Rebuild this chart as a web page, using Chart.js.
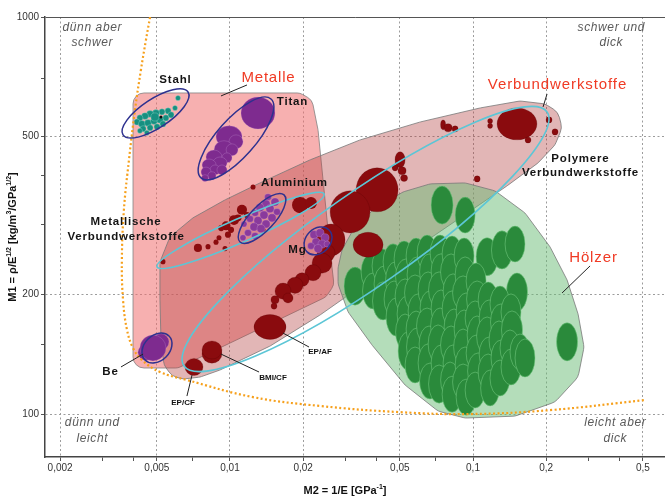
<!DOCTYPE html>
<html>
<head>
<meta charset="utf-8">
<script src="https://cdn.jsdelivr.net/npm/chart.js@4.4.0/dist/chart.umd.min.js"></script>
<style>
  html, body { margin: 0; padding: 0; background: #fff; }
  #wrap { width: 665px; height: 501px; }
</style>
</head>
<body>
<div id="wrap"><canvas id="c" width="665" height="501"></canvas></div>
<script>
// ---- axes -------------------------------------------------------------
const xMajorTicks = [0.002, 0.005, 0.01, 0.02, 0.05, 0.1, 0.2, 0.5];
const xTickLabels = ['0,002', '0,005', '0,01', '0,02', '0,05', '0,1', '0,2', '0,5'];
const xMinorTicks = [0.003, 0.004, 0.007, 0.03, 0.04, 0.07, 0.3, 0.4];
const yMajorTicks = [100, 200, 500, 1000];
const yTickLabels = ['100', '200', '500', '1000'];
const yMinorTicks = [150, 300, 400, 700];
const xRange = [0.001733, 0.6166];
const yRange = [77.95, 1000];

// ---- materials: [M2, M1, M2 spread factor, M1 spread factor] ----------
const stahl = [
  [0.00611, 625, 1.024, 1.015], [0.00594, 590, 1.024, 1.015], [0.00556, 580, 1.029, 1.018],
  [0.00525, 577, 1.029, 1.018], [0.00496, 573, 1.034, 1.020], [0.00469, 570, 1.034, 1.020],
  [0.00447, 563, 1.034, 1.020], [0.00426, 557, 1.029, 1.018], [0.00414, 544, 1.029, 1.018],
  [0.00434, 538, 1.034, 1.020], [0.00460, 541, 1.034, 1.020], [0.00487, 547, 1.034, 1.020],
  [0.00515, 551, 1.034, 1.020], [0.00545, 557, 1.029, 1.018], [0.00439, 523, 1.029, 1.018],
  [0.00469, 526, 1.029, 1.018], [0.00501, 529, 1.029, 1.018], [0.00530, 538, 1.029, 1.018],
  [0.00455, 511, 1.024, 1.015], [0.00426, 517, 1.024, 1.015], [0.00572, 567, 1.029, 1.018],
  [0.00491, 560, 1.039, 1.024]
];
const stahlMarker = [[0.00520, 560, 1.014, 1.009]];
const titan = [
  [0.01304, 573, 1.175, 1.097], [0.00991, 499, 1.131, 1.066], [0.01059, 485, 1.069, 1.041],
  [0.00945, 463, 1.099, 1.054], [0.01020, 463, 1.058, 1.035], [0.00859, 444, 1.079, 1.041],
  [0.00972, 442, 1.049, 1.029], [0.00910, 429, 1.069, 1.035], [0.00820, 424, 1.069, 1.035],
  [0.00868, 412, 1.049, 1.029], [0.00927, 412, 1.049, 1.029], [0.00797, 407, 1.049, 1.029],
  [0.00843, 398, 1.039, 1.024], [0.00789, 393, 1.034, 1.020]
];
const aluminium = [
  [0.01434, 352, 1.034, 1.020], [0.01532, 342, 1.039, 1.024], [0.01407, 338, 1.039, 1.024],
  [0.01329, 331, 1.039, 1.024], [0.01461, 329, 1.039, 1.024], [0.01561, 323, 1.034, 1.020],
  [0.01268, 321, 1.034, 1.020], [0.01380, 317, 1.039, 1.024], [0.01489, 312, 1.039, 1.024],
  [0.01209, 310, 1.034, 1.020], [0.01304, 307, 1.039, 1.024], [0.01407, 301, 1.039, 1.024],
  [0.01256, 296, 1.039, 1.024], [0.01342, 293, 1.039, 1.024], [0.01186, 286, 1.034, 1.020],
  [0.01268, 281, 1.034, 1.020], [0.01142, 301, 1.029, 1.018], [0.01131, 278, 1.029, 1.018]
];
const magnesium = [
  [0.02217, 283, 1.039, 1.024], [0.02347, 286, 1.039, 1.024], [0.02461, 278, 1.039, 1.024],
  [0.02260, 271, 1.039, 1.024], [0.02392, 268, 1.039, 1.024], [0.02155, 265, 1.034, 1.020],
  [0.02303, 261, 1.039, 1.024], [0.02508, 268, 1.029, 1.018]
];
const beryllium = [
  [0.00451, 143, 1.079, 1.048], [0.00520, 152, 1.079, 1.048], [0.00482, 146.7, 1.131, 1.078]
];
const metalComposites = [
  [0.01244, 373, 1.024, 1.015], [0.01120, 327, 1.049, 1.029], [0.01175, 317, 1.029, 1.018],
  [0.01079, 312, 1.034, 1.020], [0.01039, 308, 1.049, 1.029], [0.00963, 298, 1.044, 1.026],
  [0.01010, 291, 1.029, 1.018], [0.00920, 294, 1.029, 1.018], [0.00981, 283, 1.029, 1.018],
  [0.00901, 278, 1.024, 1.015], [0.00876, 271, 1.024, 1.015], [0.00812, 264, 1.024, 1.015],
  [0.00738, 262, 1.039, 1.024], [0.00954, 261, 1.024, 1.015], [0.00530, 242, 1.024, 1.015],
  [0.01368, 291, 1.024, 1.015], [0.01942, 336, 1.079, 1.048], [0.02155, 340, 1.058, 1.035]
];
const polymerComposites = [
  [0.0403, 367, 1.220, 1.136], [0.0312, 323, 1.208, 1.130], [0.0370, 267, 1.153, 1.075],
  [0.02605, 274.5, 1.142, 1.097], [0.02484, 254.5, 1.089, 1.054], [0.02392, 240, 1.099, 1.060],
  [0.02197, 227, 1.079, 1.048], [0.01979, 218, 1.069, 1.041], [0.01852, 211, 1.079, 1.048],
  [0.01653, 204, 1.079, 1.048], [0.01733, 196, 1.049, 1.029], [0.01532, 194, 1.039, 1.024],
  [0.01518, 187, 1.029, 1.018],
  [0.01461, 165.7, 1.164, 1.075],
  [0.00843, 141.6, 1.099, 1.054], [0.00843, 145.0, 1.099, 1.054],
  [0.00711, 131.4, 1.089, 1.051],
  [0.0501, 437, 1.049, 1.048], [0.05106, 410, 1.039, 1.024], [0.04779, 417, 1.029, 1.018],
  [0.05204, 393, 1.034, 1.020], [0.07533, 535, 1.024, 1.029], [0.07898, 526, 1.039, 1.024],
  [0.08439, 522.5, 1.029, 1.018], [0.1517, 538, 1.208, 1.097], [0.1176, 547, 1.024, 1.015],
  [0.1176, 532, 1.024, 1.015], [0.2055, 550.5, 1.029, 1.018], [0.2175, 513.5, 1.029, 1.018],
  [0.1684, 490, 1.029, 1.018], [0.1040, 391, 1.029, 1.018]
];
const woods = [
  [0.0327, 210, 1.110, 1.117], [0.0746, 336, 1.110, 1.117], [0.0928, 317, 1.099, 1.110],
  [0.1143, 249, 1.110, 1.117], [0.1316, 259, 1.105, 1.117], [0.1489, 268, 1.099, 1.110],
  [0.1517, 203, 1.105, 1.117], [0.2438, 152, 1.105, 1.117],
  [0.03806, 228.0, 1.099, 1.110], [0.03879, 204.2, 1.105, 1.110],
  [0.04224, 236.1, 1.099, 1.104], [0.04305, 212.6, 1.099, 1.110], [0.04264, 192.7, 1.105, 1.117],
  [0.04689, 241.7, 1.099, 1.110], [0.04779, 217.7, 1.094, 1.110], [0.04733, 194.9, 1.099, 1.110],
  [0.04824, 175.5, 1.099, 1.117],
  [0.05204, 245.9, 1.099, 1.110], [0.05304, 221.5, 1.105, 1.110], [0.05254, 198.3, 1.099, 1.104],
  [0.05354, 178.6, 1.099, 1.110], [0.05254, 160.9, 1.094, 1.110], [0.05405, 144.2, 1.099, 1.117],
  [0.05831, 250.1, 1.099, 1.110], [0.05886, 224.1, 1.099, 1.110], [0.05776, 201.8, 1.105, 1.110],
  [0.05942, 181.8, 1.099, 1.104], [0.05831, 163.7, 1.099, 1.110], [0.05886, 147.5, 1.105, 1.117],
  [0.05776, 132.9, 1.099, 1.110],
  [0.06472, 254.5, 1.099, 1.110], [0.06595, 228.0, 1.094, 1.110], [0.06533, 205.4, 1.099, 1.110],
  [0.06659, 185.0, 1.099, 1.104], [0.06472, 166.6, 1.105, 1.110], [0.06595, 150.1, 1.099, 1.110],
  [0.06533, 134.5, 1.099, 1.117], [0.06659, 121.1, 1.105, 1.110],
  [0.07321, 254.5, 1.099, 1.110], [0.0739, 229.4, 1.099, 1.104], [0.07252, 205.4, 1.105, 1.110],
  [0.0739, 185.0, 1.099, 1.110], [0.07321, 166.6, 1.094, 1.110], [0.07184, 150.1, 1.099, 1.117],
  [0.0739, 134.5, 1.099, 1.110], [0.07252, 119.0, 1.105, 1.117],
  [0.08202, 253.1, 1.099, 1.110], [0.08125, 228.0, 1.105, 1.110], [0.0828, 204.2, 1.099, 1.104],
  [0.08202, 184.0, 1.099, 1.110], [0.08359, 165.7, 1.099, 1.110], [0.08125, 149.2, 1.105, 1.117],
  [0.0828, 134.5, 1.099, 1.110], [0.08049, 121.8, 1.094, 1.110], [0.08202, 112.2, 1.099, 1.110],
  [0.09191, 250.1, 1.099, 1.110], [0.09279, 224.1, 1.099, 1.110], [0.09105, 201.8, 1.105, 1.104],
  [0.09367, 181.8, 1.099, 1.110], [0.09191, 163.7, 1.099, 1.117], [0.09105, 147.5, 1.094, 1.110],
  [0.09279, 132.9, 1.099, 1.110], [0.09105, 120.4, 1.105, 1.110], [0.09367, 110.3, 1.099, 1.110],
  [0.10298, 216.4, 1.099, 1.110], [0.10396, 194.9, 1.105, 1.110], [0.10201, 174.5, 1.099, 1.104],
  [0.10396, 158.1, 1.099, 1.117], [0.10298, 142.4, 1.099, 1.110], [0.10495, 128.4, 1.105, 1.110],
  [0.10201, 114.9, 1.099, 1.110],
  [0.1154, 193.8, 1.099, 1.110], [0.1165, 174.6, 1.099, 1.110], [0.11431, 157.2, 1.105, 1.117],
  [0.1165, 141.6, 1.099, 1.104], [0.1154, 127.6, 1.099, 1.110], [0.1176, 116.3, 1.094, 1.110],
  [0.12915, 189.4, 1.099, 1.110], [0.13038, 170.6, 1.105, 1.110], [0.12794, 153.6, 1.099, 1.117],
  [0.13038, 138.4, 1.099, 1.110], [0.12915, 123.2, 1.099, 1.110],
  [0.14334, 180.8, 1.099, 1.110], [0.1447, 162.8, 1.105, 1.117], [0.14199, 146.7, 1.099, 1.110],
  [0.14334, 131.4, 1.099, 1.110], [0.15611, 143.3, 1.099, 1.110], [0.16369, 138.4, 1.099, 1.117]
];

// ---- class envelopes (M2, M1 outline vertices) ------------------------
const metalleEnvelope = [
  [0.00399, 643.7], [0.01942, 643.7], [0.02176, 618.1], [0.02303, 519.5], [0.02415, 388.8],
  [0.0258, 259.1], [0.0268, 211.4], [0.02484, 197.2], [0.00611, 130.6], [0.00399, 130.6]
];
const compositeEnvelope = [
  [0.00515, 241.7], [0.00515, 193.8], [0.0052, 153.6], [0.00535, 132.9], [0.00577, 124.7],
  [0.00641, 122.5], [0.00753, 123.9], [0.0091, 129.1], [0.01461, 148.3], [0.02347, 177.6],
  [0.0501, 245.9], [0.08849, 311.9], [0.138, 375.5], [0.1852, 429], [0.2175, 476.2],
  [0.2325, 525.6], [0.2238, 576.5], [0.1979, 604], [0.1561, 614.5], [0.107, 590.1],
  [0.06056, 543.9], [0.03429, 490.2], [0.02135, 436.6], [0.01329, 382], [0.00954, 346.2],
  [0.00704, 312], [0.00566, 279.3]
];
const woodEnvelope = [
  [0.02784, 233.4], [0.02891, 259.1], [0.03209, 290.9], [0.03879, 326.7], [0.05155, 362.6],
  [0.06659, 379.9], [0.09279, 382.1], [0.1233, 364.8], [0.1637, 321], [0.2075, 263.6],
  [0.2438, 217.7], [0.2706, 178.6], [0.2864, 147.5], [0.2706, 123.9], [0.2175, 107.2],
  [0.1489, 98.8], [0.09279, 97.7], [0.07184, 101.7], [0.05254, 118.3], [0.03842, 149.2],
  [0.03061, 180.8], [0.02784, 212.6]
];
// boundary curve
const boundaryCurve = [
  [0.00469, 1000], [0.00451, 875], [0.0043, 735.5], [0.004065, 583.3], [0.00384, 436.6],
  [0.00366, 326.7], [0.00359, 244.5], [0.00363, 193.8], [0.00377, 162.8], [0.00399, 146.7],
  [0.00434, 136.8], [0.00515, 127.6], [0.00665, 121.8], [0.01244, 110.3], [0.02347, 104.8],
  [0.0501, 101.1], [0.09729, 100], [0.2075, 102.3], [0.5104, 108.5]
];
// family rings: major-axis end points [M2, M1]
const ringStahl = [[0.00363, 504.7], [0.00672, 647.4]];
const ringTitan = [[0.0076, 393.3], [0.01475, 621.7]];
const ringAluminium = [[0.011, 271.3], [0.01669, 356.4]];
const ringMg = [[0.02075, 256.1], [0.02556, 290.9]];
const ringBe = [[0.00447, 136.8], [0.00561, 157.2]];
const ringMetalComposites = [[0.00501, 234.7], [0.02438, 358.5]];
const ringPolymerComposites = [[0.00647, 132.1], [0.2017, 576.5]];

// ---- drawing helpers --------------------------------------------------
const FONT = '"Liberation Sans", Arial, sans-serif';
const toPx = (chart, p) => [chart.scales.x.getPixelForValue(p[0]), chart.scales.y.getPixelForValue(p[1])];

// polygon with rounded corners (radius clamped to the adjoining edges)
function roundedPath(ctx, P, r) {
  const n = P.length;
  const mid = (a, b) => [(a[0] + b[0]) / 2, (a[1] + b[1]) / 2];
  const m0 = mid(P[n - 1], P[0]);
  ctx.moveTo(m0[0], m0[1]);
  for (let i = 0; i < n; i++) {
    const p = P[i], prev = P[(i - 1 + n) % n], next = P[(i + 1) % n];
    const v1 = [prev[0] - p[0], prev[1] - p[1]], v2 = [next[0] - p[0], next[1] - p[1]];
    const l1 = Math.hypot(v1[0], v1[1]), l2 = Math.hypot(v2[0], v2[1]);
    const cos = (v1[0] * v2[0] + v1[1] * v2[1]) / (l1 * l2);
    const ang = Math.acos(Math.max(-1, Math.min(1, cos)));
    const rr = Math.min(r, Math.min(l1, l2) / 2 * Math.tan(ang / 2));
    const m = mid(p, next);
    ctx.arcTo(p[0], p[1], m[0], m[1], Math.max(rr, 0.01));
  }
  ctx.closePath();
}

function clipArea(chart) {
  const a = chart.chartArea, ctx = chart.ctx;
  ctx.beginPath();
  ctx.rect(a.left, a.top, a.right - a.left, a.bottom - a.top);
  ctx.clip();
}

const envelopeStyles = [
  { pts: metalleEnvelope, fill: 'rgba(240,112,112,0.55)', stroke: 'rgba(130,130,130,0.8)', r: 11 },
  { pts: compositeEnvelope, fill: 'rgba(178,62,62,0.38)', stroke: 'rgba(120,120,120,0.8)', r: 14 },
  { pts: woodEnvelope, fill: 'rgba(105,188,118,0.5)', stroke: 'rgba(120,120,120,0.8)', r: 14 }
];

const ringStyles = [
  { ends: ringMetalComposites, ratio: 0.13, color: '#5cc6d6', width: 1.6 },
  { ends: ringPolymerComposites, ratio: 0.21, color: '#5cc6d6', width: 1.6 },
  { ends: ringStahl, ratio: 0.37, color: '#2e318f', width: 1.5 },
  { ends: ringTitan, ratio: 0.36, color: '#2e318f', width: 1.5 },
  { ends: ringAluminium, ratio: 0.38, color: '#2e318f', width: 1.5 },
  { ends: ringMg, ratio: 0.78, color: '#2e318f', width: 1.5 },
  { ends: ringBe, ratio: 0.75, color: '#2e318f', width: 1.5 }
];

// text annotations anchored at [M2, M1]
const classLabels = [
  { t: ['Metalle'], at: [0.01434, 702], font: '15px ' + FONT, color: '#f03a24', sp: 0.8 },
  { t: ['Verbundwerkstoffe'], at: [0.2217, 674.3], font: '15px ' + FONT, color: '#f03a24', sp: 0.9 },
  { t: ['Hölzer'], at: [0.3119, 247.4], font: '15px ' + FONT, color: '#f03a24', sp: 0.9 },
  { t: ['Stahl'], at: [0.00594, 694], font: 'bold 11.5px ' + FONT, color: '#151515', sp: 0.8 },
  { t: ['Titan'], at: [0.018, 611], font: 'bold 11.5px ' + FONT, color: '#151515', sp: 0.8 },
  { t: ['Aluminium'], at: [0.01834, 382], font: 'bold 11.5px ' + FONT, color: '#151515', sp: 0.8 },
  { t: ['Mg'], at: [0.01887, 259.1], font: 'bold 11.5px ' + FONT, color: '#151515', sp: 0.8 },
  { t: ['Be'], at: [0.00321, 127.6], font: 'bold 11.5px ' + FONT, color: '#151515', sp: 0.8 },
  { t: ['Metallische', 'Verbundwerkstoffe'], at: [0.00372, 291.7], font: 'bold 11.5px ' + FONT, color: '#151515', sp: 0.8 },
  { t: ['Polymere', 'Verbundwerkstoffe'], at: [0.2757, 421.6], font: 'bold 11.5px ' + FONT, color: '#151515', sp: 0.8 },
  { t: ['EP/CF'], at: [0.00641, 106.6], font: 'bold 8px ' + FONT, color: '#111', sp: 0 },
  { t: ['BMI/CF'], at: [0.01503, 123.2], font: 'bold 8px ' + FONT, color: '#111', sp: 0 },
  { t: ['EP/AF'], at: [0.02347, 143.3], font: 'bold 8px ' + FONT, color: '#111', sp: 0 }
];
const leaders = [
  [[0.01175, 674.3], [0.00918, 632.6]],
  [[0.2017, 640], [0.1942, 593.5]],
  [[0.3032, 236.1], [0.2325, 201.8]],
  [[0.00356, 131.4], [0.00439, 141.6]],
  [[0.00698, 125.4], [0.00665, 111]],
  [[0.00918, 141.6], [0.01317, 127.6]],
  [[0.01653, 159.9], [0.02115, 147.5]]
];

function drawText(ctx, s, x, y, font, color, sp, align) {
  ctx.font = font;
  ctx.fillStyle = color;
  ctx.textAlign = align || 'center';
  ctx.textBaseline = 'middle';
  ctx.letterSpacing = sp + 'px';
  ctx.fillText(s, x + (align === 'left' ? 0 : sp / 2), y);
  ctx.letterSpacing = '0px';
}

function richTitle(ctx, parts, x, y, rot) {
  const base = 'bold 11px ' + FONT, sup = 'bold 7px ' + FONT;
  ctx.save();
  ctx.translate(x, y);
  ctx.rotate(rot);
  let w = 0;
  parts.forEach(p => { ctx.font = p[1] ? sup : base; p.w = ctx.measureText(p[0]).width; w += p.w; });
  let cx = -w / 2;
  ctx.fillStyle = '#111';
  ctx.textAlign = 'left';
  ctx.textBaseline = 'alphabetic';
  parts.forEach(p => { ctx.font = p[1] ? sup : base; ctx.fillText(p[0], cx, p[1] ? -1.5 : 4); cx += p.w; });
  ctx.restore();
}

const envelopePlugin = {
  id: 'envelopes',
  beforeDatasetsDraw(chart) {
    const ctx = chart.ctx;
    ctx.save();
    clipArea(chart);
    envelopeStyles.forEach(r => {
      const P = r.pts.map(p => toPx(chart, p));
      ctx.beginPath();
      roundedPath(ctx, P, r.r);
      ctx.fillStyle = r.fill;
      ctx.fill();
      ctx.lineWidth = 1;
      ctx.strokeStyle = r.stroke;
      ctx.stroke();
    });
    ctx.restore();
  }
};

const ellipsePlugin = {
  id: 'materialEllipses',
  afterDatasetDraw(chart, args) {
    const ds = chart.data.datasets[args.index];
    if (!ds.ellipseFill) return;
    const ctx = chart.ctx, xs = chart.scales.x, ys = chart.scales.y;
    ctx.save();
    clipArea(chart);
    args.meta.data.forEach((el, i) => {
      const d = ds.data[i];
      const rx = Math.abs(xs.getPixelForValue(d.x * d.fx) - xs.getPixelForValue(d.x / d.fx)) / 2;
      const ry = Math.abs(ys.getPixelForValue(d.y / d.fy) - ys.getPixelForValue(d.y * d.fy)) / 2;
      ctx.beginPath();
      ctx.ellipse(el.x, el.y, rx, ry, 0, 0, Math.PI * 2);
      ctx.fillStyle = ds.ellipseFill;
      ctx.fill();
      if (ds.ellipseStroke) {
        ctx.lineWidth = ds.ellipseStrokeWidth;
        ctx.strokeStyle = ds.ellipseStroke;
        ctx.stroke();
      }
    });
    ctx.restore();
  },
  afterDatasetsDraw(chart) {
    const ctx = chart.ctx;
    ctx.save();
    clipArea(chart);
    ringStyles.forEach(r => {
      const A = toPx(chart, r.ends[0]), B = toPx(chart, r.ends[1]);
      const a = Math.hypot(B[0] - A[0], B[1] - A[1]) / 2;
      ctx.beginPath();
      ctx.ellipse((A[0] + B[0]) / 2, (A[1] + B[1]) / 2, a, a * r.ratio,
        Math.atan2(B[1] - A[1], B[0] - A[0]), 0, Math.PI * 2);
      ctx.lineWidth = r.width;
      ctx.strokeStyle = r.color;
      ctx.stroke();
    });
    ctx.restore();
  },
  afterDraw(chart) {
    const ctx = chart.ctx, a = chart.chartArea;
    ctx.save();
    // leader lines
    ctx.strokeStyle = '#222';
    ctx.lineWidth = 1;
    leaders.forEach(l => {
      const A = toPx(chart, l[0]), B = toPx(chart, l[1]);
      ctx.beginPath(); ctx.moveTo(A[0], A[1]); ctx.lineTo(B[0], B[1]); ctx.stroke();
    });
    classLabels.forEach(l => {
      const P = toPx(chart, l.at);
      const lh = l.t.length > 1 ? 14.5 : 0;
      l.t.forEach((s, i) => drawText(ctx, s, P[0], P[1] + (i - (l.t.length - 1) / 2) * lh, l.font, l.color, l.sp));
    });
    // quadrant notes
    const qf = 'italic 12px ' + FONT, qc = '#5a5a5a';
    drawText(ctx, 'dünn aber', a.left + 47, a.top + 11, qf, qc, 0.6);
    drawText(ctx, 'schwer', a.left + 47, a.top + 26, qf, qc, 0.6);
    drawText(ctx, 'schwer und', a.right - 54, a.top + 11, qf, qc, 0.6);
    drawText(ctx, 'dick', a.right - 54, a.top + 26, qf, qc, 0.6);
    drawText(ctx, 'dünn und', a.left + 47, a.bottom - 34, qf, qc, 0.6);
    drawText(ctx, 'leicht', a.left + 47, a.bottom - 18, qf, qc, 0.6);
    drawText(ctx, 'leicht aber', a.right - 50, a.bottom - 34, qf, qc, 0.6);
    drawText(ctx, 'dick', a.right - 50, a.bottom - 18, qf, qc, 0.6);
    // axis titles
    richTitle(ctx, [['M2 = 1/E [GPa'], ['-1', true], [']']], 345, 490, 0);
    richTitle(ctx, [['M1 = ρ/E'], ['1/2', true], [' [kg/m'], ['3', true], ['/GPa'], ['1/2', true], [']']],
      12, (a.top + a.bottom) / 2, -Math.PI / 2);
    ctx.restore();
  }
};

function bubbleSet(label, rows, fill, stroke, strokeWidth, order) {
  return {
    label, order,
    data: rows.map(r => ({ x: r[0], y: r[1], fx: r[2], fy: r[3] })),
    pointRadius: 0, pointHoverRadius: 0, showLine: false,
    ellipseFill: fill, ellipseStroke: stroke, ellipseStrokeWidth: strokeWidth
  };
}

const tickColor = '#555';
new Chart(document.getElementById('c'), {
  type: 'scatter',
  data: {
    datasets: [
      bubbleSet('Hölzer', woods, '#2a8a3b', 'rgba(120,205,132,0.9)', 0.6, 10),
      bubbleSet('Polymere Verbundwerkstoffe', polymerComposites, '#8a0b0e', 'rgba(70,0,0,0.35)', 0.6, 9),
      bubbleSet('Metallische Verbundwerkstoffe', metalComposites, '#8a0b0e', null, 0, 8),
      bubbleSet('Stahl', stahl, '#178f80', 'rgba(150,225,210,0.7)', 0.5, 7),
      bubbleSet('Titan', titan, '#7e2b8f', 'rgba(200,150,215,0.55)', 0.5, 6),
      bubbleSet('Aluminium', aluminium, '#8a3a9c', 'rgba(205,160,220,0.6)', 0.5, 5),
      bubbleSet('Mg', magnesium, '#8a3a9c', 'rgba(205,160,220,0.6)', 0.5, 4),
      bubbleSet('Be', beryllium, '#7e2b8f', 'rgba(200,150,215,0.5)', 0.5, 3),
      bubbleSet('Stahl Referenz', stahlMarker, '#111', null, 0, 2),
      {
        label: 'Grenzkurve', order: 1, showLine: true, tension: 0.4,
        data: boundaryCurve.map(p => ({ x: p[0], y: p[1] })),
        borderColor: '#f6a01c', borderWidth: 2.2, borderDash: [2, 2.4],
        pointRadius: 0, fill: false
      }
    ]
  },
  options: {
    responsive: false,
    animation: false,
    devicePixelRatio: 1,
    events: [],
    layout: { padding: { top: 17, right: 0, left: 0, bottom: 0 } },
    plugins: { legend: { display: false }, tooltip: { enabled: false } },
    scales: {
      x: {
        type: 'logarithmic', position: 'bottom', min: xRange[0], max: xRange[1],
        afterBuildTicks: s => { s.ticks = xMajorTicks.concat(xMinorTicks).sort((a, b) => a - b).map(v => ({ value: v })); },
        afterFit: s => { s.height = 44; },
        ticks: {
          autoSkip: false, maxRotation: 0, padding: 1, color: '#333',
          font: { family: FONT, size: 10 },
          callback: v => { const i = xMajorTicks.indexOf(v); return i >= 0 ? xTickLabels[i] : ''; }
        },
        grid: {
          color: c => (c.tick && xMajorTicks.includes(c.tick.value)) ? '#9c9c9c' : 'rgba(0,0,0,0)',
          tickColor: tickColor, tickLength: 4, lineWidth: 1
        },
        border: { color: '#444', width: 1.5, dash: [2, 2.5] },
        title: { display: false }
      },
      y: {
        type: 'logarithmic', position: 'left', min: yRange[0], max: yRange[1],
        afterBuildTicks: s => { s.ticks = yMajorTicks.concat(yMinorTicks).sort((a, b) => a - b).map(v => ({ value: v })); },
        afterFit: s => { s.width = 45; },
        ticks: {
          autoSkip: false, padding: 2, color: '#333',
          font: { family: FONT, size: 10 },
          callback: v => { const i = yMajorTicks.indexOf(v); return i >= 0 ? yTickLabels[i] : ''; }
        },
        grid: {
          color: c => {
            if (!c.tick) return 'rgba(0,0,0,0)';
            if (c.tick.value === 1000) return '#555';
            return yMajorTicks.includes(c.tick.value) ? '#9c9c9c' : 'rgba(0,0,0,0)';
          },
          tickColor: tickColor, tickLength: 4, lineWidth: 1
        },
        border: { color: '#444', width: 1.5, dash: c => (c.tick && c.tick.value === 1000) ? [] : [2, 2.5] },
        title: { display: false }
      }
    }
  },
  plugins: [envelopePlugin, ellipsePlugin]
});
</script>
</body>
</html>
